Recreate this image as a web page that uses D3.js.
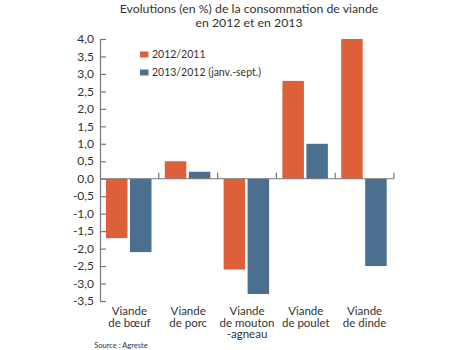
<!DOCTYPE html>
<html lang="fr">
<head>
<meta charset="UTF-8">
<title>Consommation de viande</title>
<script src="https://d3js.org/d3.v7.min.js"></script>
<style>
    body { margin: 0; background: #fff; }
    svg text { font-family: Lato, 'Open Sans', sans-serif; fill: #333; }
</style>
</head>
<body>
<script>
    const categories = [
        ["Viande", "de bœuf"],
        ["Viande", "de porc"],
        ["Viande", "de mouton", "-agneau"],
        ["Viande", "de poulet"],
        ["Viande", "de dinde"]
    ];
    const series2012 = [-1.7, 0.5, -2.6, 2.8, 4.0];
    const series2013 = [-2.1, 0.2, -3.3, 1.0, -2.5];
    const seriesNames = ["2012/2011", "2013/2012 (janv.-sept.)"];
    const yTicks = [4.0, 3.5, 3.0, 2.5, 2.0, 1.5, 1.0, 0.5, 0.0, -0.5, -1.0, -1.5, -2.0, -2.5, -3.0, -3.5];
    const colors = ["#de603a", "#4b6f8f"];

    const width = 467, height = 350;
    const svg = d3.select("body").append("svg")
        .attr("width", width)
        .attr("height", height);

    const x = d3.scaleBand()
        .domain(d3.range(categories.length))
        .range([100, 394]);

    const y = d3.scaleLinear()
        .domain([-3.5, 4.0])
        .range([301, 39]);

    const fmt = d => d3.format(".1f")(d).replace(".", ",").replace("−", "-");

    // title
    const title = svg.append("text")
        .attr("text-anchor", "middle")
        .style("font-size", "12.3px");
    title.append("tspan").attr("x", 249).attr("y", 12.5)
        .text("Evolutions (en %) de la consommation de viande");
    title.append("tspan").attr("x", 249).attr("dy", 14)
        .text("en 2012 et en 2013");

    // y axis, ticks pointing inside
    const yAxis = svg.append("g")
        .attr("transform", "translate(100,0)")
        .call(d3.axisRight(y).tickValues(yTicks).tickSize(6).tickSizeOuter(0).tickFormat(""));
    yAxis.select(".domain").attr("stroke", "#777").attr("stroke-width", 1.2);
    yAxis.selectAll(".tick line").attr("stroke", "#777").attr("stroke-width", 1.2);

    svg.append("g").selectAll("text")
        .data(yTicks)
        .join("text")
        .attr("x", 94)
        .attr("y", d => y(d))
        .attr("dy", "0.35em")
        .attr("text-anchor", "end")
        .style("font-size", "12px")
        .text(fmt);

    // bars
    const bw = 21.5;
    const offsets = [6, 30];
    [series2012, series2013].forEach((vals, s) => {
        svg.append("g").selectAll("rect")
            .data(vals)
            .join("rect")
            .attr("x", (d, i) => x(i) + offsets[s])
            .attr("width", bw)
            .attr("y", d => y(Math.max(0, d)))
            .attr("height", d => Math.abs(y(d) - y(0)))
            .attr("fill", colors[s]);
    });

    // zero line with category separators
    svg.append("line")
        .attr("x1", 100).attr("x2", x.range()[1])
        .attr("y1", y(0)).attr("y2", y(0))
        .attr("stroke", "#777").attr("stroke-width", 1.2);
    svg.append("g").selectAll("line")
        .data(d3.range(1, categories.length + 1))
        .join("line")
        .attr("x1", i => x(0) + i * x.bandwidth())
        .attr("x2", i => x(0) + i * x.bandwidth())
        .attr("y1", y(0)).attr("y2", y(0) - 6)
        .attr("stroke", "#777").attr("stroke-width", 1.2);

    // category labels
    const cat = svg.append("g").selectAll("text")
        .data(categories)
        .join("text")
        .attr("text-anchor", "middle")
        .attr("y", 315)
        .style("font-size", "11.5px");
    cat.selectAll("tspan")
        .data((d, i) => d.map(t => ({t, i})))
        .join("tspan")
        .attr("x", d => x(d.i) + x.bandwidth() / 2)
        .attr("dy", (d, j) => j === 0 ? 0 : 11.5)
        .text(d => d.t);

    // legend
    const leg = svg.append("g");
    seriesNames.forEach((n, i) => {
        leg.append("rect")
            .attr("x", 140).attr("y", 51.5 + i * 18)
            .attr("width", 8.5).attr("height", 6)
            .attr("fill", colors[i]);
        leg.append("text")
            .attr("x", 152).attr("y", 58 + i * 18)
            .style("font-size", "10.5px")
            .text(n);
    });

    // source
    svg.append("text")
        .attr("x", 121).attr("y", 348)
        .attr("text-anchor", "middle")
        .style("font-size", "7.5px")
        .text("Source : Agreste");
</script>
</body>
</html>
